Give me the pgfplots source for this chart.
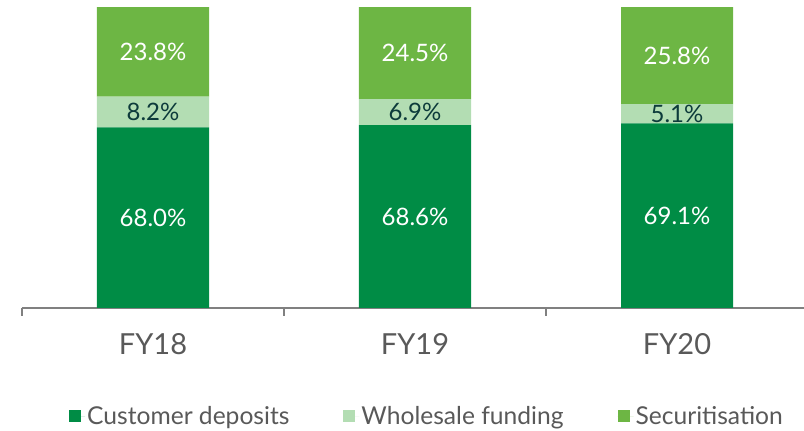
\documentclass[border=0pt]{standalone}
\usepackage{pgfplots}
\pgfplotsset{compat=1.18}
\usepackage{fontspec}
\setmainfont{Lato}
\definecolor{cdep}{HTML}{008C45}
\definecolor{whol}{HTML}{B3DDB3}
\definecolor{secu}{HTML}{6DB644}
\definecolor{lbl}{HTML}{0D3B3B}
\definecolor{txt}{HTML}{595959}
\definecolor{axc}{HTML}{808080}
\begin{document}
\begin{tikzpicture}
\useasboundingbox (-22pt,-123pt) rectangle (782pt,308pt);
\begin{axis}[
  at={(0,0)}, anchor=south west,
  scale only axis, width=786pt, height=301pt,
  xmin=-0.5, xmax=2.5, ymin=20, ymax=100,
  ybar stacked, bar width=0.4275,
  axis x line=bottom, axis y line=none,
  axis line style={axc, line width=1.2pt, -},
  xtick={0,1,2}, xticklabels={FY18,FY19,FY20},
  major tick length=0pt,
  extra x ticks={-0.5,0.5,1.5}, extra x tick labels={},
  extra x tick style={major tick length=8pt, tick style={axc, line width=1.2pt}, tick align=outside},
  xticklabel style={font=\fontsize{29}{34}\selectfont, text=txt, yshift=-22pt},
  clip=true,
  legend columns=3,
  legend style={draw=none, at={(0.5,-108pt)}, xshift=12pt, anchor=center, font=\fontsize{24.6}{28}\selectfont, text=txt,
    /tikz/every even column/.append style={column sep=52pt}},
  legend image code/.code={\fill[#1] (0pt,-6pt) rectangle (12pt,6pt); \path (0pt,0pt) -- (16pt,0pt);},
]
\addplot[fill=cdep, draw=none] coordinates {(0,68.0) (1,68.6) (2,69.1)};
\addplot[fill=whol, draw=none] coordinates {(0,8.2) (1,6.9) (2,5.1)};
\addplot[fill=secu, draw=none] coordinates {(0,23.8) (1,24.5) (2,25.8)};
\legend{Customer deposits, Wholesale funding, Securitisation}
\end{axis}
\begin{axis}[
  at={(0,0)}, anchor=south west,
  scale only axis, width=786pt, height=301pt,
  xmin=-0.5, xmax=2.5, ymin=20, ymax=100,
  hide axis,
  nodes near coords, point meta=explicit symbolic,
  nodes near coords align=center,
  every node near coord/.append style={font=\fontsize{24}{28}\selectfont, anchor=center},
]
\addplot[draw=none, mark=none, every node near coord/.append style={text=white}] table[meta=l] {
x y l
0 44.0 68.0\%
1 44.3 68.6\%
2 44.55 69.1\%
};
\addplot[draw=none, mark=none, every node near coord/.append style={text=lbl}] table[meta=l] {
x y l
0 72.1 8.2\%
1 72.05 6.9\%
2 71.65 5.1\%
};
\addplot[draw=none, mark=none, every node near coord/.append style={text=white}] table[meta=l] {
x y l
0 88.1 23.8\%
1 87.75 24.5\%
2 87.1 25.8\%
};
\end{axis}
\end{tikzpicture}
\end{document}
